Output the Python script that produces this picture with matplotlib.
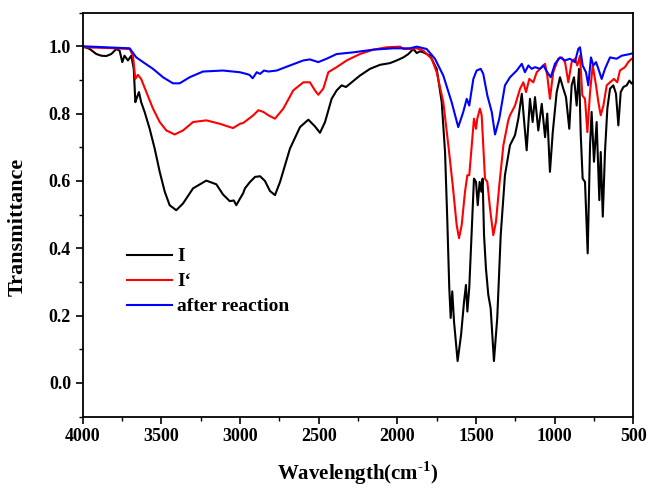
import matplotlib
matplotlib.use("Agg")
import matplotlib.pyplot as plt
from matplotlib.ticker import MultipleLocator

# sample I
wn_I = [4000, 3956, 3914, 3882, 3851, 3819, 3787, 3766, 3749, 3735, 3713, 3692, 3676, 3666, 3655,
        3643, 3629, 3607, 3575, 3543, 3511, 3479, 3448, 3406, 3363, 3299, 3215, 3151, 3109, 3066,
        3040, 3024, 3000, 2981, 2969, 2937, 2905, 2873, 2842, 2810, 2778, 2746, 2683, 2619, 2566,
        2524, 2492, 2460, 2418, 2386, 2354, 2327, 2290, 2238, 2174, 2110, 2047, 2004, 1962, 1930,
        1899, 1877, 1856, 1835, 1792, 1750, 1718, 1697, 1683, 1670, 1661, 1651, 1640, 1617, 1595,
        1576, 1564, 1555, 1543, 1527, 1513, 1500, 1489, 1477, 1466, 1458, 1449, 1437, 1422, 1407,
        1386, 1365, 1343, 1316, 1284, 1252, 1231, 1209, 1178, 1157, 1140, 1125, 1104, 1082, 1061,
        1047, 1030, 1012, 987, 966, 945, 928, 907, 892, 877, 860, 845, 834, 822, 807,
        790, 775, 765, 750, 733, 716, 707, 694, 680, 665, 648, 627, 610, 595, 580,
        563, 542, 525, 510, 500]
t_I = [1.0, 0.992, 0.977, 0.972, 0.971, 0.977, 0.992, 0.987, 0.953, 0.972, 0.958, 0.972, 0.933, 0.834, 0.849,
       0.864, 0.834, 0.805, 0.755, 0.696, 0.627, 0.568, 0.528, 0.513, 0.533, 0.578, 0.601, 0.590, 0.560, 0.540,
       0.542, 0.528, 0.548, 0.563, 0.578, 0.597, 0.612, 0.614, 0.600, 0.570, 0.558, 0.597, 0.696, 0.760, 0.782,
       0.762, 0.743, 0.775, 0.844, 0.869, 0.884, 0.879, 0.893, 0.913, 0.933, 0.945, 0.950, 0.958, 0.967, 0.977,
       0.992, 0.980, 0.985, 0.982, 0.972, 0.933, 0.834, 0.686, 0.489, 0.282, 0.193, 0.272, 0.183, 0.065, 0.143,
       0.242, 0.291, 0.212, 0.282, 0.459, 0.607, 0.597, 0.528, 0.597, 0.568, 0.607, 0.439, 0.341, 0.262, 0.222,
       0.065, 0.193, 0.439, 0.617, 0.706, 0.736, 0.785, 0.859, 0.691, 0.844, 0.775, 0.849, 0.750, 0.829, 0.730,
       0.800, 0.627, 0.745, 0.864, 0.908, 0.874, 0.849, 0.755, 0.884, 0.908, 0.824, 0.933, 0.736, 0.607, 0.597,
       0.385, 0.706, 0.805, 0.657, 0.775, 0.543, 0.686, 0.494, 0.686, 0.815, 0.874, 0.884, 0.859, 0.765, 0.864,
       0.879, 0.884, 0.898, 0.889, 0.895]

# sample I'
wn_I2 = [4000, 3850, 3702, 3681, 3666, 3650, 3629, 3596, 3554, 3511, 3469, 3416, 3363, 3299, 3215,
         3130, 3045, 3000, 2981, 2958, 2916, 2884, 2852, 2820, 2778, 2725, 2662, 2598, 2556, 2524,
         2503, 2471, 2439, 2386, 2322, 2238, 2153, 2068, 1983, 1962, 1920, 1877, 1835, 1782, 1750,
         1708, 1676, 1648, 1623, 1608, 1591, 1570, 1555, 1543, 1527, 1513, 1500, 1492, 1475, 1464,
         1454, 1443, 1428, 1411, 1390, 1373, 1352, 1326, 1295, 1284, 1252, 1220, 1199, 1182, 1161,
         1136, 1114, 1082, 1061, 1047, 1030, 1009, 977, 955, 934, 913, 892, 871, 856, 839,
         824, 807, 792, 775, 758, 737, 722, 707, 690, 669, 648, 623, 602, 585, 553,
         532, 510, 500]
t_I2 = [0.997, 0.995, 0.992, 0.972, 0.903, 0.915, 0.903, 0.864, 0.815, 0.775, 0.750, 0.738, 0.750, 0.775, 0.780,
        0.770, 0.757, 0.770, 0.772, 0.780, 0.795, 0.810, 0.805, 0.795, 0.785, 0.815, 0.869, 0.893, 0.893, 0.869,
        0.856, 0.874, 0.923, 0.938, 0.958, 0.977, 0.990, 0.997, 0.999, 0.992, 0.992, 0.994, 0.987, 0.963, 0.923,
        0.834, 0.706, 0.587, 0.469, 0.430, 0.469, 0.568, 0.617, 0.617, 0.706, 0.785, 0.755, 0.785, 0.815, 0.795,
        0.706, 0.607, 0.597, 0.518, 0.439, 0.479, 0.587, 0.706, 0.780, 0.795, 0.824, 0.874, 0.893, 0.864, 0.903,
        0.893, 0.923, 0.938, 0.948, 0.913, 0.844, 0.923, 0.963, 0.967, 0.953, 0.893, 0.953, 0.963, 0.943, 0.972,
        0.854, 0.844, 0.745, 0.864, 0.943, 0.884, 0.834, 0.795, 0.824, 0.884, 0.893, 0.903, 0.893, 0.928, 0.938,
        0.953, 0.963, 0.965]

# after reaction
wn_after = [4000, 3850, 3702, 3660, 3617, 3554, 3490, 3427, 3384, 3321, 3236, 3109, 3003, 2960, 2940,
            2920, 2894, 2873, 2848, 2820, 2767, 2683, 2598, 2556, 2503, 2450, 2386, 2280, 2153, 2026,
            1920, 1877, 1814, 1761, 1708, 1655, 1613, 1581, 1559, 1543, 1517, 1496, 1470, 1454, 1428,
            1400, 1379, 1352, 1316, 1284, 1241, 1209, 1189, 1167, 1146, 1125, 1093, 1072, 1047, 1025,
            998, 966, 934, 903, 871, 850, 839, 822, 801, 786, 769, 754, 737, 722, 701,
            680, 648, 606, 574, 521, 500]
t_after = [1.0, 0.997, 0.994, 0.967, 0.953, 0.933, 0.908, 0.890, 0.890, 0.908, 0.925, 0.928, 0.923, 0.918, 0.915,
           0.905, 0.923, 0.918, 0.928, 0.925, 0.928, 0.943, 0.958, 0.961, 0.953, 0.963, 0.977, 0.982, 0.990, 0.994,
           0.994, 0.999, 0.992, 0.963, 0.913, 0.834, 0.760, 0.805, 0.844, 0.824, 0.903, 0.928, 0.933, 0.918, 0.854,
           0.805, 0.738, 0.785, 0.884, 0.908, 0.928, 0.948, 0.923, 0.943, 0.933, 0.938, 0.933, 0.943, 0.923, 0.908,
           0.948, 0.967, 0.958, 0.963, 0.953, 0.992, 0.997, 0.943, 0.923, 0.884, 0.967, 0.943, 0.953, 0.933, 0.903,
           0.933, 0.967, 0.963, 0.972, 0.977, 0.980]

plt.rcParams["font.family"] = "Liberation Serif"
plt.rcParams["font.weight"] = "bold"
plt.rcParams["mathtext.fontset"] = "custom"
plt.rcParams["mathtext.rm"] = "Liberation Serif:bold"
plt.rcParams["mathtext.bf"] = "Liberation Serif:bold"

fig = plt.figure(figsize=(6.49, 4.97), dpi=100)
ax = fig.add_axes([0.1276, 0.1618, 0.8482, 0.8128])

ax.plot(wn_I, t_I, color="black", lw=1.5, label="I")
ax.plot(wn_I2, t_I2, color="red", lw=1.5, label="I\u2018")
ax.plot(wn_after, t_after, color="blue", lw=1.5, label="after reaction")

ax.set_xlim(4000, 500)
ax.set_ylim(-0.1, 1.1)
ax.xaxis.set_major_locator(MultipleLocator(500))
ax.xaxis.set_minor_locator(MultipleLocator(250))
ax.yaxis.set_major_locator(MultipleLocator(0.2))
ax.yaxis.set_minor_locator(MultipleLocator(0.1))
ax.tick_params(which="major", direction="out", length=5, width=1.2, labelsize=13)
ax.tick_params(which="minor", direction="out", length=3, width=1.0)
for s in ax.spines.values():
    s.set_linewidth(1.3)

ax.set_xlabel(r"Wavelength(cm$^{\text{-1}}$)", fontsize=15, fontweight="bold", labelpad=10)
ax.set_ylabel("Transmittance", fontsize=16, fontweight="bold")
ax.yaxis.set_label_coords(-0.1, 0.47)

ax.legend(loc="upper left", bbox_to_anchor=(0.08, 0.418), frameon=False, fontsize=14,
          handlelength=2.3, handletextpad=0.3, labelspacing=0.38, borderpad=0, borderaxespad=0)

fig.savefig("out.png", dpi=100)
